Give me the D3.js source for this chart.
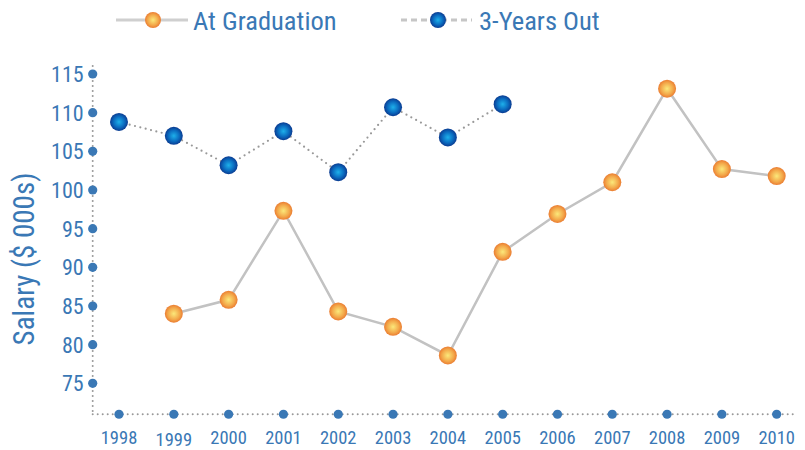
<!DOCTYPE html>
<html>
<head>
<meta charset="utf-8">
<script src="https://cdn.jsdelivr.net/npm/d3@7"></script>
<style>
  body { margin: 0; background: #fff; }
  svg text { font-family: "Roboto Condensed", "Liberation Sans Narrow", "DejaVu Sans Condensed", "Roboto", sans-serif; fill: #3a78b5; }
</style>
</head>
<body>
<svg id="drawing_region"></svg>
<script>
// data
const years = [1998, 1999, 2000, 2001, 2002, 2003, 2004, 2005, 2006, 2007, 2008, 2009, 2010];
const atGraduation = [null, 84, 85.8, 97.3, 84.3, 82.3, 78.6, 92, 96.9, 101, 113.1, 102.7, 101.8];
const threeYearsOut = [108.8, 107, 103.2, 107.6, 102.3, 110.7, 106.8, 111.1, null, null, null, null, null];
const yTicks = [75, 80, 85, 90, 95, 100, 105, 110, 115];

const width = 805, height = 450;
const blue = "#3a78b5";

const svg = d3.select("#drawing_region")
    .attr("width", width)
    .attr("height", height);

// gradients for the ball markers
const defs = svg.append("defs");
const orangeGrad = defs.append("radialGradient").attr("id", "orangeBall")
    .attr("cx", "50%").attr("cy", "50%").attr("r", "55%");
orangeGrad.append("stop").attr("offset", "0%").attr("stop-color", "#fbe87a");
orangeGrad.append("stop").attr("offset", "60%").attr("stop-color", "#f3a84a");
orangeGrad.append("stop").attr("offset", "100%").attr("stop-color", "#e8702a");
const blueGrad = defs.append("radialGradient").attr("id", "blueBall")
    .attr("cx", "50%").attr("cy", "50%").attr("r", "55%");
blueGrad.append("stop").attr("offset", "0%").attr("stop-color", "#1eb0ea");
blueGrad.append("stop").attr("offset", "55%").attr("stop-color", "#0b6cc0");
blueGrad.append("stop").attr("offset", "100%").attr("stop-color", "#0a2f85");

const xscale = d3.scalePoint()
    .domain(years)
    .range([119, 776.7]);

const yscale = d3.scaleLinear()
    .domain([75, 115])
    .range([383.3, 74]);

const axisX = 92.7;
const axisY = yscale(71);

// dotted axis lines
svg.append("line")
    .attr("x1", axisX).attr("x2", axisX)
    .attr("y1", yscale(115) - 8).attr("y2", axisY)
    .attr("stroke", "#999").attr("stroke-width", 2)
    .attr("stroke-dasharray", "0 5").attr("stroke-linecap", "round");
svg.append("line")
    .attr("x1", axisX).attr("x2", 794)
    .attr("y1", axisY).attr("y2", axisY)
    .attr("stroke", "#999").attr("stroke-width", 2)
    .attr("stroke-dasharray", "0 5").attr("stroke-linecap", "round");

// y tick dots + labels
svg.selectAll(".ytick")
    .data(yTicks)
    .enter()
    .append("circle")
    .attr("cx", axisX)
    .attr("cy", d => yscale(d))
    .attr("r", 4.6)
    .attr("fill", blue);
svg.selectAll(".ylabel")
    .data(yTicks)
    .enter()
    .append("text")
    .attr("x", axisX - 9)
    .attr("y", d => yscale(d))
    .attr("dy", "0.36em")
    .attr("text-anchor", "end")
    .attr("font-size", "22px")
    .text(d => d);

// x tick dots + labels
svg.selectAll(".xtick")
    .data(years)
    .enter()
    .append("circle")
    .attr("cx", d => xscale(d))
    .attr("cy", axisY)
    .attr("r", 4.6)
    .attr("fill", blue);
svg.selectAll(".xlabel")
    .data(years)
    .enter()
    .append("text")
    .attr("x", d => xscale(d))
    .attr("y", d => d === 1999 ? 445.5 : 444)
    .attr("text-anchor", "middle")
    .attr("font-size", "18.5px")
    .text(d => d);

// y axis title
svg.append("text")
    .attr("transform", "translate(34, 259) rotate(-90)")
    .attr("text-anchor", "middle")
    .attr("font-size", "29px")
    .text("Salary ($ 000s)");

// series
const gradData = years.map((y, i) => ({ year: y, v: atGraduation[i] })).filter(d => d.v !== null);
const outData = years.map((y, i) => ({ year: y, v: threeYearsOut[i] })).filter(d => d.v !== null);

const line = d3.line()
    .x(d => xscale(d.year))
    .y(d => yscale(d.v));

svg.append("path")
    .datum(gradData)
    .attr("d", line)
    .attr("fill", "none")
    .attr("stroke", "#c2c2c2")
    .attr("stroke-width", 2.5);

svg.append("path")
    .datum(outData)
    .attr("d", line)
    .attr("fill", "none")
    .attr("stroke", "#999")
    .attr("stroke-width", 2.2)
    .attr("stroke-dasharray", "0 5.5")
    .attr("stroke-linecap", "round");

svg.selectAll(".gradBall")
    .data(gradData)
    .enter()
    .append("circle")
    .attr("cx", d => xscale(d.year))
    .attr("cy", d => yscale(d.v))
    .attr("r", 9)
    .attr("fill", "url(#orangeBall)");

svg.selectAll(".outBall")
    .data(outData)
    .enter()
    .append("circle")
    .attr("cx", d => xscale(d.year))
    .attr("cy", d => yscale(d.v))
    .attr("r", 9)
    .attr("fill", "url(#blueBall)");

// legend
const legend = svg.append("g");
legend.append("line")
    .attr("x1", 116).attr("x2", 188).attr("y1", 20).attr("y2", 20)
    .attr("stroke", "#cfcfcf").attr("stroke-width", 3);
legend.append("circle")
    .attr("cx", 153).attr("cy", 20).attr("r", 8)
    .attr("fill", "url(#orangeBall)");
legend.append("text")
    .attr("x", 193).attr("y", 20).attr("dy", "0.36em")
    .attr("font-size", "26.5px")
    .text("At Graduation");

legend.append("line")
    .attr("x1", 401).attr("x2", 472).attr("y1", 20).attr("y2", 20)
    .attr("stroke", "#c6c6c6").attr("stroke-width", 3)
    .attr("stroke-dasharray", "6 4");
legend.append("circle")
    .attr("cx", 438).attr("cy", 20).attr("r", 8)
    .attr("fill", "url(#blueBall)");
legend.append("text")
    .attr("x", 479).attr("y", 20).attr("dy", "0.36em")
    .attr("font-size", "26.5px")
    .text("3-Years Out");
</script>
</body>
</html>
